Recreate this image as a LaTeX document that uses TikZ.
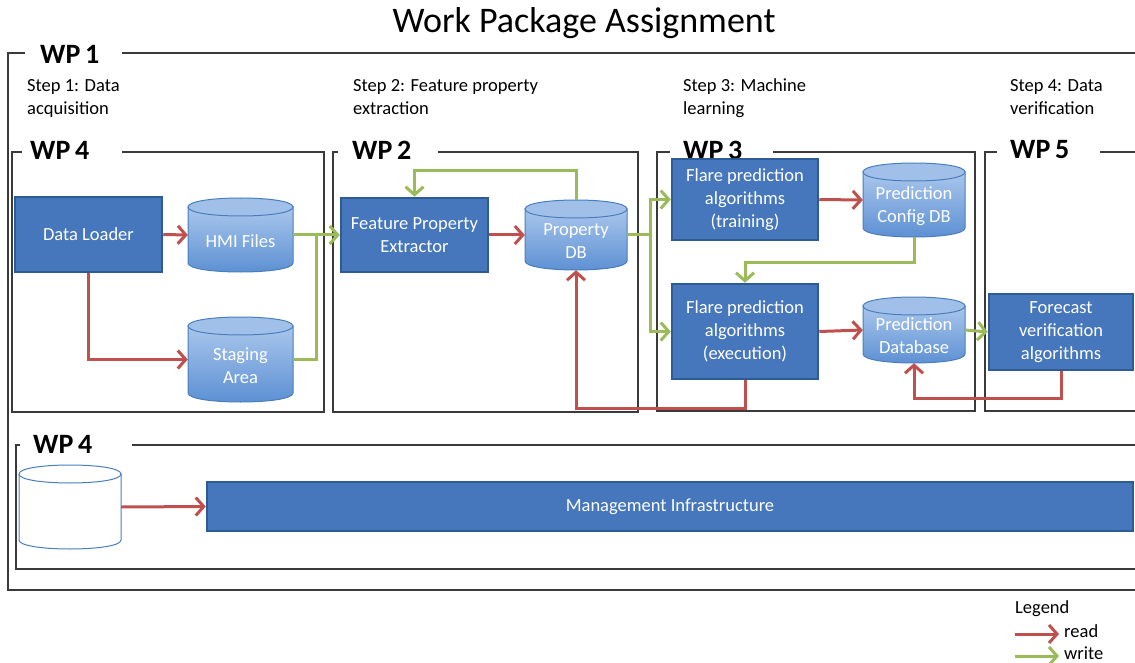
\documentclass[tikz,border=0pt]{standalone}
\usepackage{fontspec}
\setmainfont{Carlito}
\usetikzlibrary{arrows.meta}
\definecolor{boxfill}{HTML}{4676BC}
\definecolor{boxline}{HTML}{2E5B94}
\definecolor{rdc}{HTML}{C0504D}
\definecolor{gnc}{HTML}{9BBB59}
\definecolor{cyltop}{HTML}{A9C6EC}
\definecolor{cylbot}{HTML}{5A8ED2}
\definecolor{cyllid}{HTML}{A0C0EA}
\definecolor{cylline}{HTML}{4A7EBB}
\definecolor{frame}{HTML}{3A3A3A}
\newcommand\boxfont{\fontsize{18.5}{23}\selectfont}
\newcommand\wpfont{\fontsize{28}{32}\selectfont\bfseries}
\newcommand\dbcyl[8]{%
  \path[#1] (#4,#5+9) -- (#4,#7-9) .. controls (#4,#7+3) and (#6,#7+3) .. (#6,#7-9) -- (#6,#5+9) -- cycle;
  \path[#2] (#4,#5+9) .. controls (#4,#5-3) and (#6,#5-3) .. (#6,#5+9) .. controls (#6,#5+21) and (#4,#5+21) .. (#4,#5+9) -- cycle;
  \pgfmathsetmacro\cw{#6-#4}\pgfmathsetmacro\ch{#7-#5}%
  \node[cylnode, minimum width=\cw pt, minimum height=\ch pt] (#3) at ({(#4+#6)/2},{(#5+#7)/2}) {};
  \node[cyltext] (#3-t) at ([yshift=-6pt]#3.center) {#8};
}
\tikzset{
  proc/.style={draw=boxline, fill=boxfill, line width=2.5pt, text=white, font=\boxfont, align=center, inner sep=0pt},
  cylnode/.style={inner sep=0pt, draw=none},
  cyltext/.style={text=white, font=\boxfont, align=center, inner sep=0pt},
  cylbody/.style={top color=cyltop, bottom color=cylbot, draw=cylline, line width=1pt},
  cyllidst/.style={fill=cyllid, draw=cylline, line width=1pt},
  whitebody/.style={fill=white, draw=cylline, line width=1pt},
  wpframe/.style={draw=frame, line width=1.5pt},
  wplabel/.style={fill=white, anchor=west, font=\wpfont, inner ysep=1pt, align=left},
  steptext/.style={font=\boxfont, align=left, anchor=base west, inner sep=0pt},
  rd/.style={draw=rdc, line width=3pt},
  gn/.style={draw=gnc, line width=3pt},
  tip/.style={-{Straight Barb[length=8pt,width=18pt]}},
}
\begin{document}
\begin{tikzpicture}[x=1pt,y=-1pt]
\useasboundingbox (0,0) rectangle (1135,663);
\clip (0,0) rectangle (1135,663);
\node[font=\fontsize{36}{40}\selectfont, anchor=base] (title) at (584,33) {Work Package Assignment};
% frames
\draw[wpframe] (8,53) rectangle (1150,590);
\draw[wpframe] (12,152) rectangle (324,412);
\draw[wpframe] (333,152) rectangle (638,412);
\draw[wpframe] (657,152) rectangle (975,411);
\draw[wpframe] (985,152) rectangle (1150,411);
\draw[wpframe] (16,445) rectangle (1150,569);
% labels
\node[wplabel, inner xsep=15pt, text width=67pt] (wp1) at (25,54) {WP\,1};
\node[wplabel, inner xsep=8pt, text width=84pt] (wp4a) at (22,150) {WP\,4};
\node[wplabel, inner xsep=14pt, text width=72pt] (wp2) at (338,150) {WP\,2};
\node[wplabel, inner xsep=13pt, text width=77pt] (wp3) at (670,150) {WP\,3};
\node[wplabel, inner xsep=13pt, text width=77pt] (wp5) at (997,150) {WP\,5};
\node[wplabel, inner xsep=13pt, text width=86pt] (wp4b) at (20,444) {WP\,4};
% steps
\node[steptext] (s1) at (27,115) {Step 1: Data\\acquisition};
\node[steptext] (s2) at (353,115) {Step 2: Feature property\\extraction};
\node[steptext] (s3) at (683,115) {Step 3: Machine\\learning};
\node[steptext] (s4) at (1010,115) {Step 4: Data\\verification};
% process boxes
\node[proc, minimum width=147pt, minimum height=75pt] (dl) at (88.5,234.5) {Data Loader};
\node[proc, minimum width=147pt, minimum height=74pt] (fpe) at (414.5,235) {Feature Property\\Extractor};
\node[proc, minimum width=146pt, minimum height=81pt] (fpt) at (745,199.5) {Flare prediction\\algorithms\\(training)};
\node[proc, minimum width=146pt, minimum height=95pt] (fpx) at (745,331.5) {Flare prediction\\algorithms\\(execution)};
\node[proc, minimum width=144pt, minimum height=76pt] (fv) at (1061,332) {Forecast\\verification\\algorithms};
\node[proc, minimum width=926pt, minimum height=49pt] (mg) at (670,506.5) {Management Infrastructure};
% cylinders
\dbcyl{cylbody}{cyllidst}{hmi}{188}{198}{293}{272}{HMI Files}
\dbcyl{cylbody}{cyllidst}{stg}{188}{317}{293}{402}{Staging\\Area}
\dbcyl{cylbody}{cyllidst}{pdb}{525}{200}{627}{270}{Property\\DB}
\dbcyl{cylbody}{cyllidst}{pcdb}{863}{163}{965}{237}{Prediction\\Config DB}
\dbcyl{cylbody}{cyllidst}{pdbase}{863}{297}{965}{363}{Prediction\\Database}
\dbcyl{whitebody}{whitebody}{wcyl}{19}{465}{121}{549}{}
% connectors
\draw[rd, tip] (dl.east) -- (hmi.west);
\draw[rd, tip] (dl.south) |- (stg.west);
\coordinate (j1) at (316,235);
\draw[gn] (stg.east) -| (j1);
\draw[gn, tip] (hmi.east) -- (fpe.west);
\draw[rd, tip] (fpe.east) -- (pdb.west);
\draw[gn, tip] (pdb.north) -- ++(0,-29) -| (fpe.north);
\coordinate (j2) at (650,235);
\draw[gn] (pdb.east) -- (j2);
\draw[gn, tip] (j2) |- (fpt.west);
\draw[gn, tip] (j2) |- (fpx.west);
\draw[rd, tip] (fpt.east) -- (pcdb.west);
\draw[gn, tip] (pcdb.south) -- ++(0,25) -| (fpx.north);
\draw[rd, tip] (fpx.east) -- (pdbase.west);
\draw[gn, tip] (pdbase.east) -- (fv.west);
\draw[rd, tip] (fv.south) -- ++(0,27) -| (pdbase.south);
\draw[rd, tip] (fpx.south) -- ++(0,28) -| (pdb.south);
\draw[rd, tip] (wcyl.east) -- (mg.west);
% legend
\node[font=\boxfont, anchor=west, inner sep=0pt] (leg) at (1015,609) {Legend};
\node[font=\boxfont, anchor=west, inner sep=0pt] (lread) at (1064,631) {read};
\node[font=\boxfont, anchor=west, inner sep=0pt] (lwrite) at (1064,653) {write};
\coordinate (lr0) at (1015,634);
\coordinate (lw0) at (1015,656);
\draw[rd, tip] (lr0) -- ([xshift=-5pt]lr0 -| lread.west);
\draw[gn, tip] (lw0) -- ([xshift=-5pt]lw0 -| lwrite.west);
\end{tikzpicture}
\end{document}
